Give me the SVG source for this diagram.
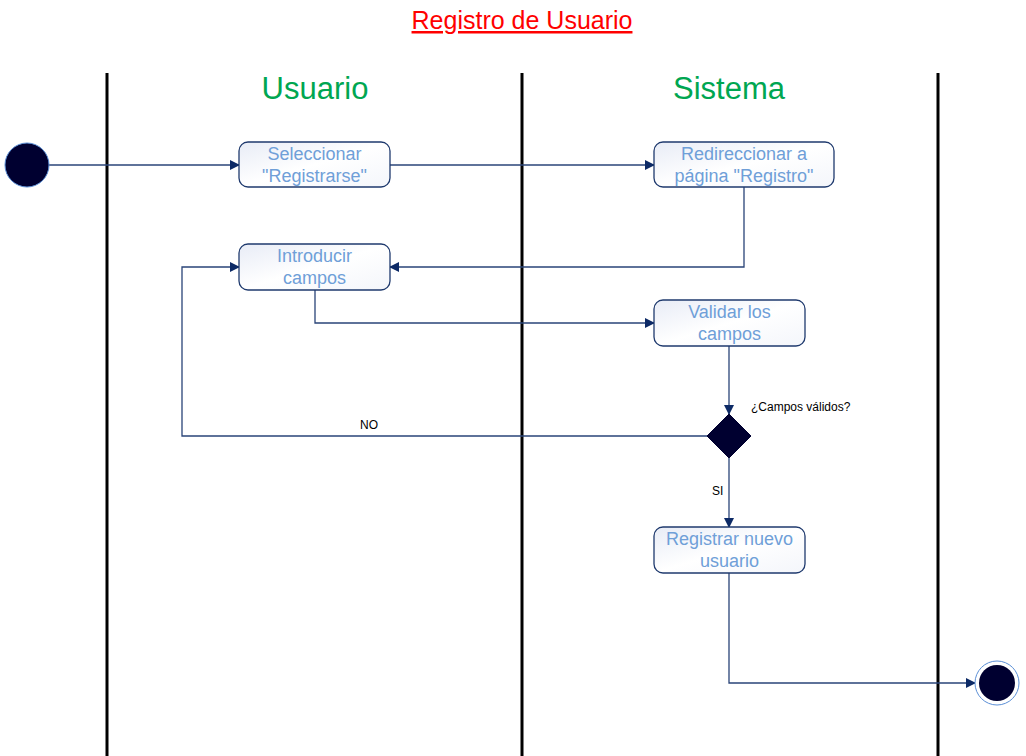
<svg xmlns="http://www.w3.org/2000/svg" width="1026" height="756" viewBox="0 0 1026 756">
<defs>
<linearGradient id="nodeGrad" x1="0" y1="0" x2="1" y2="1">
<stop offset="0" stop-color="#e8ecf6"/>
<stop offset="0.5" stop-color="#ffffff"/>
<stop offset="1" stop-color="#f4f6fb"/>
</linearGradient>
<marker id="arr" markerWidth="10" markerHeight="10" refX="9" refY="5" orient="auto" markerUnits="userSpaceOnUse">
<path d="M0,0 L10,5 L0,10 Z" fill="#0d2a66"/>
</marker>
</defs>
<style>
.lane{stroke:#000;stroke-width:3;}
.hdr{font-family:"Liberation Sans",Arial,sans-serif;font-size:31px;fill:#00a651;text-anchor:middle;}
.node rect{fill:url(#nodeGrad);stroke:#1f3a6e;stroke-width:1.3;}
.node text{font-family:"Liberation Sans",Arial,sans-serif;font-size:18px;fill:#6f9fd8;text-anchor:middle;}
.conn path{fill:none;stroke:#2a4478;stroke-width:1.3;}
.lbl{font-family:"Liberation Sans",Arial,sans-serif;font-size:12px;fill:#000;}
</style>
<rect width="1026" height="756" fill="#ffffff"/>
<text x="522" y="29" font-family="Liberation Sans, Arial, sans-serif" font-size="25" fill="#ff0000" text-anchor="middle" text-decoration="underline">Registro de Usuario</text>
<g id="lanes">
<line class="lane" x1="107" y1="73" x2="107" y2="756"/>
<line class="lane" x1="522" y1="73" x2="522" y2="756"/>
<line class="lane" x1="938" y1="73" x2="938" y2="756"/>
<text class="hdr" x="315" y="99">Usuario</text>
<text class="hdr" x="729" y="99">Sistema</text>
</g>
<g class="conn" id="connectors">
<path d="M49,165 L239,165" marker-end="url(#arr)"/>
<path d="M390,165 L654,165" marker-end="url(#arr)"/>
<path d="M744,187 L744,267 L390,267" marker-end="url(#arr)"/>
<path d="M315,290 L315,323 L654,323" marker-end="url(#arr)"/>
<path d="M729,346 L729,414" marker-end="url(#arr)"/>
<path d="M707,436 L182,436 L182,267 L239,267" marker-end="url(#arr)"/>
<path d="M729,458 L729,527" marker-end="url(#arr)"/>
<path d="M729,573 L729,683 L975,683" marker-end="url(#arr)"/>
<text class="lbl" x="360" y="429">NO</text>
<text class="lbl" x="712" y="495">SI</text>
<text class="lbl" x="751" y="411" font-size="11">¿Campos válidos?</text>
</g>
<g id="start">
<circle cx="27" cy="165" r="22" fill="#000030" stroke="#5b8fd6" stroke-width="1"/>
</g>
<g id="n1" class="node">
<rect x="239" y="142" width="151" height="45" rx="9"/>
<text x="314.5" y="160">Seleccionar</text>
<text x="314.5" y="182">"Registrarse"</text>
</g>
<g id="n2" class="node">
<rect x="654" y="142" width="180" height="45" rx="9"/>
<text x="744" y="160">Redireccionar a</text>
<text x="744" y="182">página "Registro"</text>
</g>
<g id="n3" class="node">
<rect x="239" y="244" width="151" height="46" rx="9"/>
<text x="314.5" y="262">Introducir</text>
<text x="314.5" y="284">campos</text>
</g>
<g id="n4" class="node">
<rect x="654" y="300" width="151" height="46" rx="9"/>
<text x="729.5" y="318">Validar  los</text>
<text x="729.5" y="340">campos</text>
</g>
<g id="decision">
<path d="M729,414 L751,436 L729,458 L707,436 Z" fill="#000030" stroke="#000030"/>
</g>
<g id="n5" class="node">
<rect x="654" y="527" width="151" height="46" rx="9"/>
<text x="729.5" y="545">Registrar nuevo</text>
<text x="729.5" y="567">usuario</text>
</g>
<g id="end">
<circle cx="997" cy="683" r="22" fill="#ffffff" stroke="#5b8fd6" stroke-width="1"/>
<circle cx="997" cy="683" r="18" fill="#000030"/>
</g>
</svg>
